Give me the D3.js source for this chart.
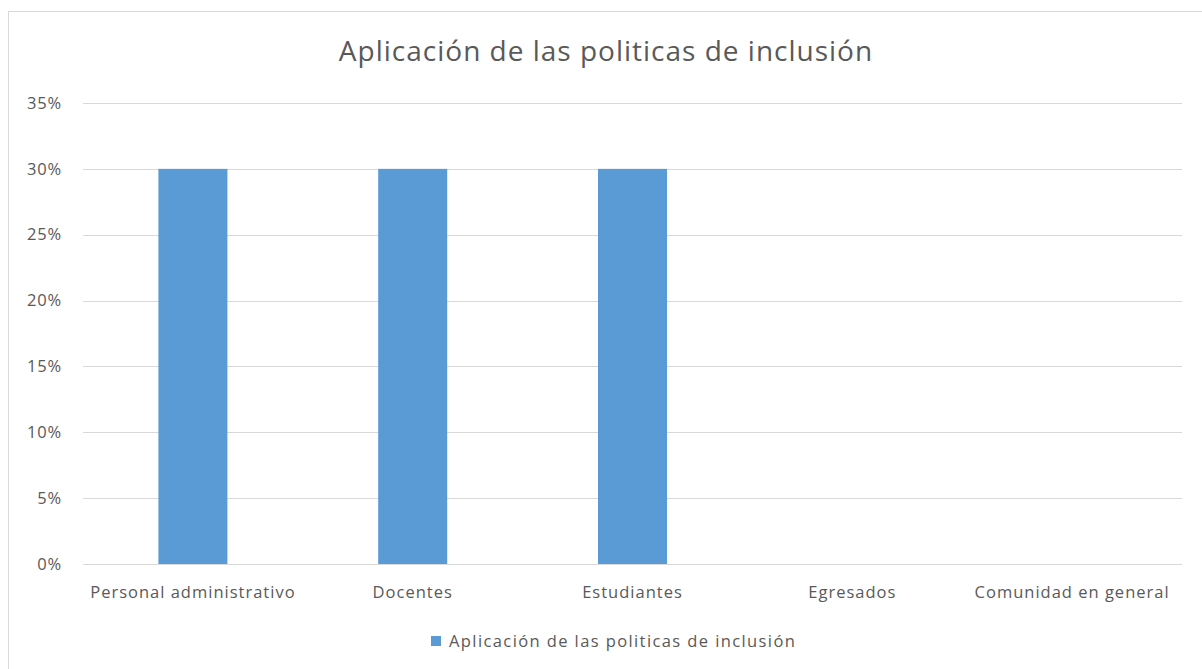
<!DOCTYPE html>
<html><head><meta charset="utf-8">
<script src="https://cdn.jsdelivr.net/npm/d3@7"></script>
<style>body{margin:0;background:#fff;} svg{display:block;}</style>
</head><body>
<script>
const categories = ["Personal administrativo","Docentes","Estudiantes","Egresados","Comunidad en general"];
const values = [0.30,0.30,0.30,0,0];
const yTicks = [0,0.05,0.10,0.15,0.20,0.25,0.30,0.35];
const title = "Aplicación de las politicas de inclusión";
const seriesName = "Aplicación de las politicas de inclusión";

const W=1202,H=669;
const svg=d3.select("body").append("svg").attr("width",W).attr("height",H);
const font="'Open Sans', 'DejaVu Sans', sans-serif";
svg.append("rect").attr("x",8.5).attr("y",11.5).attr("width",1200).attr("height",670).attr("fill","#fff").attr("stroke","#d9d9d9");

const L=83,R=1182,T=103,B=564;
const x=d3.scaleBand().domain(categories).range([L,R]).paddingInner(0.686).paddingOuter(0.343);
const y=d3.scaleLinear().domain([0,0.35]).range([B,T]);

svg.append("g").selectAll("line").data(yTicks).join("line")
 .attr("x1",L).attr("x2",R).attr("y1",d=>Math.round(y(d))+0.5).attr("y2",d=>Math.round(y(d))+0.5)
 .attr("stroke","#d9d9d9").attr("stroke-width",1);

const yAxis=d3.axisLeft(y).tickValues(yTicks).tickFormat(d3.format(".0%")).tickSize(0).tickPadding(21);
const ga=svg.append("g").attr("transform",`translate(${L},0)`).call(yAxis);
ga.select(".domain").remove();
ga.selectAll("text").attr("font-family",font).attr("font-size",16.5).attr("letter-spacing",0.8).attr("fill","#595959");

svg.append("g").selectAll("rect").data(categories).join("rect")
 .attr("x",d=>x(d)).attr("width",x.bandwidth())
 .attr("y",(d,i)=>y(values[i])).attr("height",(d,i)=>y(0)-y(values[i]))
 .attr("fill","#5b9bd5");

const xAxis=d3.axisBottom(x).tickSize(0).tickPadding(0);
const gx=svg.append("g").attr("transform",`translate(0,${B})`).call(xAxis);
gx.select(".domain").remove();
gx.selectAll("text").attr("dy",null).attr("y",34).attr("font-family",font).attr("font-size",16.5).attr("letter-spacing",1).attr("fill","#595959");

svg.append("text").attr("x",606).attr("y",61).attr("text-anchor","middle")
 .attr("font-family",font).attr("font-size",28).attr("letter-spacing",1).attr("fill","#595959").text(title);

svg.append("rect").attr("x",431).attr("y",636).attr("width",10).attr("height",10).attr("fill","#5b9bd5");
svg.append("text").attr("x",449).attr("y",647).attr("font-family",font).attr("font-size",16.5).attr("letter-spacing",1.4).attr("fill","#595959").text(seriesName);
</script>
</body></html>
